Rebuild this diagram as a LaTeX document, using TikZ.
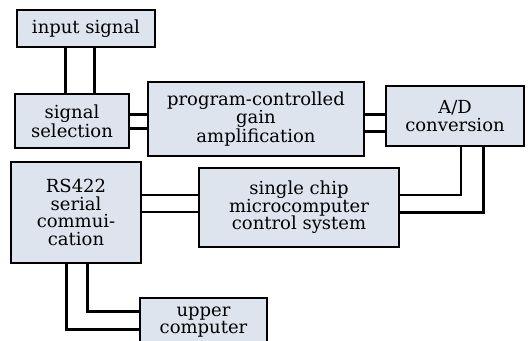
\documentclass[tikz,border=0pt]{standalone}
\usepackage{fontspec}
\setmainfont{DejaVu Serif}
\definecolor{boxfill}{HTML}{DDE4EE}
\begin{document}
\begin{tikzpicture}[x=1pt,y=-1pt,
  blk/.style={draw=black,line width=2pt,fill=boxfill,inner sep=0pt,align=center,
    font=\fontsize{18}{17.5}\selectfont},
  thk/.style={line width=3pt},
  thn/.style={line width=2pt}]
\useasboundingbox (0,0) rectangle (530,340);
\clip (0,0) rectangle (530,340);
\node[blk,minimum width=138pt,minimum height=37pt] (in) at (86,28.5) {input signal};
\node[blk,minimum width=114pt,minimum height=54pt] (sel) at (72,121) {signal\\selection};
\node[blk,minimum width=216pt,minimum height=74pt] (prog) at (256,119) {program-controlled\\gain\\amplification};
\node[blk,minimum width=138pt,minimum height=60pt] (ad) at (455,116) {A/D\\conversion};
\node[blk,minimum width=130pt,minimum height=101pt] (rs) at (76,212.5) {RS422\\serial\\commui-\\cation};
\node[blk,minimum width=200pt,minimum height=79pt] (mcu) at (299,207.5) {single chip\\microcomputer\\control system};
\node[blk,minimum width=127pt,minimum height=48pt,anchor=north west] (up) at (139,297) {upper\\computer};
% input -> selection
\draw[thk] (in.south -| 65,0) -- (sel.north -| 65,0);
\draw[thk] (in.south -| 94,0) -- (sel.north -| 94,0);
% selection -> prog
\draw[thk] (sel.east |- 0,114) -- (prog.west |- 0,114);
\draw[thk] (sel.east |- 0,128) -- (prog.west |- 0,128);
% prog -> ad
\draw[thk] (prog.east |- 0,114) -- (ad.west |- 0,114);
\draw[thk] (prog.east |- 0,131) -- (ad.west |- 0,131);
% ad -> mcu
\draw[thn] (ad.south -| 461,0) |- (mcu.east |- 0,195);
\draw[thk] (ad.south -| 483,0) |- (mcu.east |- 0,212);
% rs -> mcu
\draw[thn] (rs.east |- 0,195) -- (mcu.west |- 0,195);
\draw[thn] (rs.east |- 0,212) -- (mcu.west |- 0,212);
% rs -> upper
\draw[thk] (rs.south -| 87,0) |- (up.west |- 0,311);
\draw[thk] (rs.south -| 66,0) |- (up.west |- 0,329);
\end{tikzpicture}
\end{document}
